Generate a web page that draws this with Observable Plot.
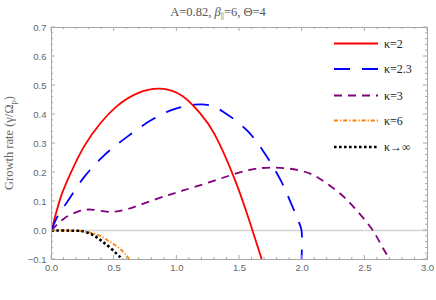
<!DOCTYPE html>
<html>
<head>
<meta charset="utf-8">
<script src="https://cdn.jsdelivr.net/npm/d3@7"></script>
<script src="https://cdn.jsdelivr.net/npm/@observablehq/plot@0.6"></script>
<style>
  html, body { margin: 0; padding: 0; background: #fff; }
  #title { width: 436px; height: 22px; line-height: 24px; text-align: center;
    font-family: "Liberation Serif", "DejaVu Serif", serif; font-size: 12.5px; color: #555; }
  #title sub { font-size: 8px; vertical-align: -2px; line-height: 0; }
</style>
</head>
<body>
<div id="title">A=0.82, <i>β</i><sub>||</sub>=6, Θ=4</div>
<div id="chart"></div>
<script>
// ---- data ----
const k2x  = [0, 0.07, 0.15, 0.26, 0.39, 0.52, 0.68, 0.87, 1.05, 1.19, 1.3, 1.455, 1.56, 1.6, 1.655, 1.68];
const k2y  = [0, 0.11, 0.195, 0.29, 0.37, 0.428, 0.472, 0.489, 0.462, 0.402, 0.333, 0.184, 0.058, 0.005, -0.069, -0.104];

const k23x = [0, 0.045, 0.125, 0.26, 0.42, 0.6, 0.79, 0.95, 1.14, 1.27, 1.375, 1.56, 1.695, 1.83, 1.907, 1.974, 1.995, 1.995];
const k23y = [0, 0.046, 0.098, 0.184, 0.259, 0.322, 0.379, 0.414, 0.434, 0.431, 0.408, 0.345, 0.27, 0.172, 0.098, 0.029, 0, -0.1];

const k3x  = [0, 0.096, 0.215, 0.32, 0.44, 0.52, 0.615, 0.84, 1.05, 1.3, 1.56, 1.775, 1.96, 2.094, 2.2, 2.307, 2.413, 2.546, 2.626, 2.68, 2.71];
const k3y  = [0, 0.04, 0.066, 0.072, 0.065, 0.066, 0.075, 0.109, 0.138, 0.172, 0.207, 0.217, 0.209, 0.19, 0.161, 0.126, 0.08, 0.011, -0.046, -0.086, -0.102];

const k6x  = [0, 0.1, 0.2, 0.28, 0.375, 0.455, 0.535, 0.6, 0.62];
const k6y  = [0, 0, -0.001, -0.005, -0.016, -0.036, -0.059, -0.087, -0.1];

const kinfx = [0, 0.1, 0.2, 0.24, 0.32, 0.40, 0.48, 0.55, 0.565];
const kinfy = [0, 0, -0.001, -0.002, -0.013, -0.036, -0.064, -0.093, -0.1];

const seriesNames  = ["κ=2", "κ=2.3", "κ=3", "κ=6", "κ→∞"];
const seriesColors = ["#ff0000", "#0000ff", "#800080", "#ff8000", "#000000"];
const seriesDash   = [null, "16,12", "8,6", "4,2,1.2,2", "2.6,2.4"];
const seriesWidth  = [1.8, 1.8, 1.8, 1.8, 2.6];
const seriesCurve  = ["natural", "catmull-rom", "natural", "natural", "natural"];

const xTicks = [0, 0.5, 1.0, 1.5, 2.0, 2.5, 3.0];
const yTicks = [-0.1, 0.0, 0.1, 0.2, 0.3, 0.4, 0.5, 0.6, 0.7];
const xMinor = d3.range(0, 3.0001, 0.1);
const yMinor = d3.range(-0.1, 0.7001, 0.02);

// ---- build table ----
const xs = [k2x, k23x, k3x, k6x, kinfx];
const ys = [k2y, k23y, k3y, k6y, kinfy];
const series = seriesNames.map((name, i) => xs[i].map((x, j) => ({x, y: ys[i][j], name})));

const tickFont = {fontSize: 9.5, fontFamily: "Liberation Sans, Arial, sans-serif", fill: "#666"};

const plot = Plot.plot({
  width: 436,
  height: 278,
  marginLeft: 51,
  marginRight: 9,
  marginTop: 5,
  marginBottom: 41,
  x: {domain: [0, 3]},
  y: {domain: [-0.1, 0.7]},
  style: {background: "white"},
  marks: [
    Plot.ruleY([0], {stroke: "#d4d4d4", strokeWidth: 1.6}),
    ...series.map((d, i) => Plot.line(d, {
      x: "x", y: "y", curve: seriesCurve[i], clip: true,
      stroke: seriesColors[i], strokeWidth: seriesWidth[i],
      strokeDasharray: seriesDash[i] || undefined, strokeLinecap: "butt"
    })),
    Plot.frame({stroke: "#a8a8a8", strokeWidth: 1}),
    Plot.axisX({ticks: xTicks, tickFormat: d3.format(".1f"), tickSize: 0, tickPadding: 5, label: null, ...tickFont}),
    Plot.axisY({ticks: yTicks, tickFormat: d3.format(".1f"), tickSize: 0, tickPadding: 5, label: null, ...tickFont})
  ]
});

document.getElementById("chart").appendChild(plot);

// ---- inward ticks on all four sides using Plot's own scales ----
const sx = plot.scale("x"), sy = plot.scale("y");
const svg = d3.select(plot);
const x0 = sx.apply(0), x1 = sx.apply(3), y0 = sy.apply(-0.1), y1 = sy.apply(0.7);
const tg = svg.append("g").attr("stroke", "#a8a8a8").attr("stroke-width", 1);
const isMajor = (v, step) => Math.abs(v / step - Math.round(v / step)) < 1e-6;
xMinor.forEach(v => {
  const px = sx.apply(v), len = isMajor(v, 0.5) ? 4 : 2;
  tg.append("line").attr("x1", px).attr("x2", px).attr("y1", y0).attr("y2", y0 - len);
  tg.append("line").attr("x1", px).attr("x2", px).attr("y1", y1).attr("y2", y1 + len);
});
yMinor.forEach(v => {
  const py = sy.apply(v), len = isMajor(v, 0.1) ? 4 : 2;
  tg.append("line").attr("y1", py).attr("y2", py).attr("x1", x0).attr("x2", x0 + len);
  tg.append("line").attr("y1", py).attr("y2", py).attr("x1", x1).attr("x2", x1 - len);
});

// ---- y axis label ----
const cy = (y0 + y1) / 2;
const yl = svg.append("text")
  .attr("transform", `translate(13,${cy}) rotate(-90)`)
  .attr("text-anchor", "middle")
  .attr("font-family", "Liberation Serif, DejaVu Serif, serif")
  .attr("font-size", 12.5)
  .attr("fill", "#666");
yl.append("tspan").text("Growth rate (γ/Ω");
yl.append("tspan").text("p").attr("font-size", 8.5).attr("dy", 3);
yl.append("tspan").text(")").attr("dy", -3);

// ---- legend inside the plot ----
const lg = svg.append("g").attr("text-anchor", "start");
const legY = [21.5, 47, 73.5, 98.5, 125];
seriesNames.forEach((name, i) => {
  lg.append("line").attr("x1", 334).attr("x2", 378).attr("y1", legY[i]).attr("y2", legY[i])
    .attr("stroke", seriesColors[i]).attr("stroke-width", seriesWidth[i])
    .attr("stroke-dasharray", seriesDash[i]);
  lg.append("text").attr("x", 384).attr("y", legY[i]).attr("dy", "0.35em")
    .attr("text-anchor", "start")
    .attr("font-family", "Liberation Serif, DejaVu Serif, serif").attr("font-size", 12)
    .attr("fill", "#222").text(name);
});
</script>
</body>
</html>
